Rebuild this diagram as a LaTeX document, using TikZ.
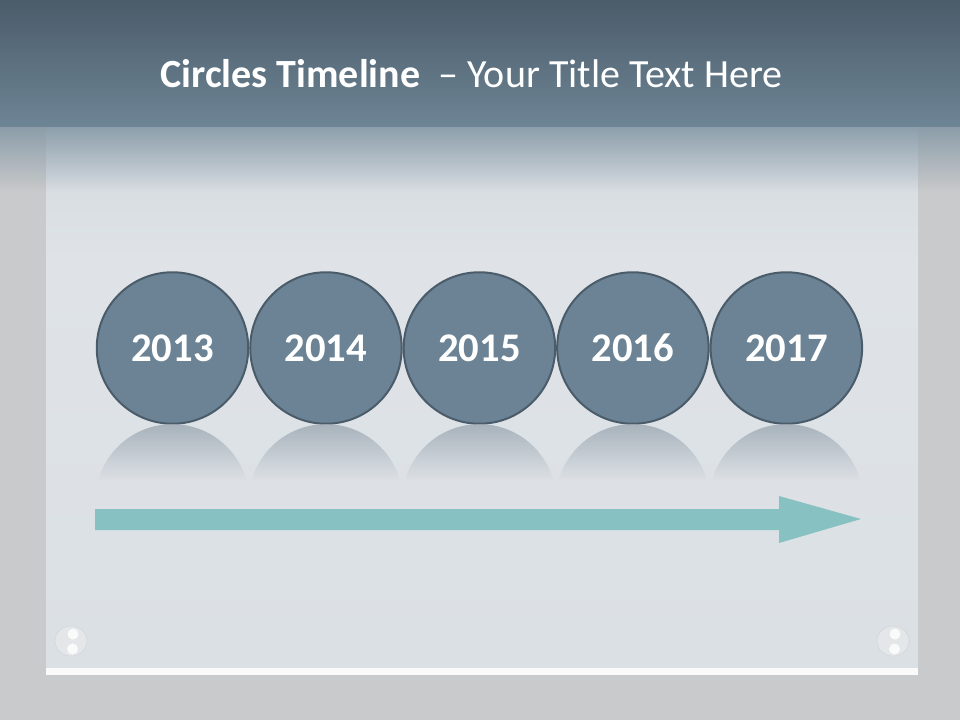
\documentclass[tikz,border=0pt]{standalone}
\usepackage{fontspec}
\setmainfont{Carlito}
\usetikzlibrary{positioning,calc,fadings}
\definecolor{hdrtop}{HTML}{4B5C6A}
\definecolor{hdrbot}{HTML}{6E8595}
\definecolor{outside}{HTML}{C9CACB}
\definecolor{platetop}{HTML}{D3D9DF}
\definecolor{platemid}{HTML}{DFE3E7}
\definecolor{platebot}{HTML}{DBE0E4}
\definecolor{circfill}{HTML}{6B8394}
\definecolor{circrim}{HTML}{4A5C6A}
\definecolor{reflc}{HTML}{9AA6B1}
\definecolor{arrowc}{HTML}{88C1C1}

\begin{document}
\begin{tikzpicture}[x=0.75pt, y=-0.75pt]
  \tikzset{yearc/.style={circle, draw=circrim, line width=1.5pt, fill=circfill,
                         minimum size=113.6pt, inner sep=0pt, text=white,
                         text height=20.5pt, text depth=0pt,
                         font=\fontsize{30.5}{36}\selectfont\bfseries},
           refl/.style={fill=reflc, fill opacity=0.9, path fading=south}}
  \useasboundingbox (0,0) rectangle (960,720);

  % backdrop and plate
  \fill[outside] (0,0) rectangle (960,720);
  \shade[top color=platetop, bottom color=platemid] (46,127) rectangle (918,260);
  \shade[top color=platemid, bottom color=platebot] (46,260) rectangle (918,668);
  \fill[white!85!platebot] (46,668) rectangle (918,675);
  \fill[hdrbot!85!white, path fading=south] (0,118) rectangle (960,192);

  % header band
  \shade[top color=hdrtop, bottom color=hdrbot] (0,0) rectangle (960,127);
  \node[anchor=base, text=white, font=\fontsize{30}{36}\selectfont] (title)
       at (471.5,88) {\textbf{Circles Timeline}\ \ -- Your Title Text Here};

  % year circles
  \node[yearc]                  (y2013) at (172.5,348) {2013};
  \node[yearc, right=0pt of y2013] (y2014) {2014};
  \node[yearc, right=0pt of y2014] (y2015) {2015};
  \node[yearc, right=0pt of y2015] (y2016) {2016};
  \node[yearc, right=0pt of y2016] (y2017) {2017};

  % reflections
  \foreach \n in {2013,...,2017}
    \fill[refl] ($(y\n.center)+(-74.5,133)$)
      arc[start angle=195.15, end angle=344.85, radius=77] -- cycle;

  % timeline arrow
  \fill[arrowc] (95,509) -- (779,509) -- (779,496) -- (861,519)
    -- (779,543) -- (779,530) -- (95,530) -- cycle;

  % screws
  \foreach \sx in {71,893} {
    \fill[white, opacity=0.25] (\sx,641) ellipse[x radius=16, y radius=15];
    \draw[black!30, opacity=0.3] (\sx,641) ellipse[x radius=16, y radius=15];
    \fill[white, opacity=0.8] (\sx+2,634) circle[radius=5.5];
    \fill[white, opacity=0.8] (\sx+1.5,649) circle[radius=5.5];
  }
\end{tikzpicture}
\end{document}
